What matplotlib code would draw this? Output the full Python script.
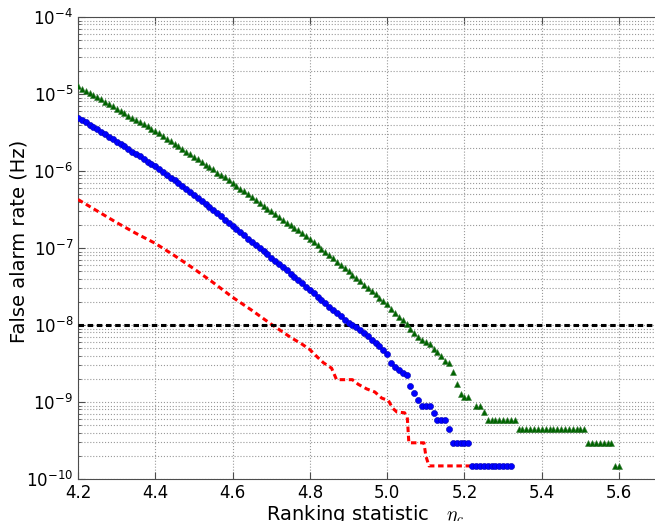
import numpy as np
import matplotlib
matplotlib.use("Agg")
import matplotlib.pyplot as plt
from matplotlib.ticker import LogLocator, MultipleLocator, NullFormatter

# log10 of false alarm rate (Hz), one value per 0.01 in ranking statistic
blue_x = np.round(np.arange(4.20, 5.325, 0.01), 2)
blue_log_far = [
    -5.31, -5.34, -5.37, -5.40, -5.43, -5.46, -5.49, -5.52, -5.56, -5.59,
    -5.62, -5.65, -5.68, -5.71, -5.75, -5.78, -5.81, -5.84, -5.88, -5.91,
    -5.94, -5.98, -6.01, -6.05, -6.09, -6.12, -6.16, -6.20, -6.24, -6.27,
    -6.31, -6.35, -6.39, -6.43, -6.47, -6.51, -6.55, -6.59, -6.63, -6.67,
    -6.71, -6.75, -6.79, -6.83, -6.88, -6.92, -6.96, -7.00, -7.04, -7.08,
    -7.13, -7.17, -7.21, -7.25, -7.29, -7.34, -7.38, -7.42, -7.46, -7.50,
    -7.55, -7.59, -7.63, -7.68, -7.72, -7.76, -7.80, -7.84, -7.88, -7.93,
    -7.97, -8.00, -8.03, -8.06, -8.10, -8.14, -8.19, -8.23, -8.27, -8.33,
    -8.38, -8.49, -8.55, -8.58, -8.62, -8.65, -8.79, -8.88, -8.98, -9.05,
    -9.05, -9.05, -9.14, -9.23, -9.23, -9.23, -9.35, -9.53, -9.53, -9.53,
    -9.53, -9.53, -9.83, -9.83, -9.83, -9.83, -9.83, -9.83, -9.83, -9.83,
    -9.83, -9.83, -9.83,
]

green_x = np.concatenate([np.round(np.arange(4.20, 5.215, 0.01), 2),
                          np.round(np.arange(5.23, 5.605, 0.01), 2)])
green_log_far = [
    -4.90, -4.93, -4.96, -4.99, -5.01, -5.04, -5.07, -5.10, -5.13, -5.16,
    -5.19, -5.22, -5.25, -5.28, -5.31, -5.34, -5.36, -5.39, -5.42, -5.45,
    -5.48, -5.51, -5.55, -5.58, -5.61, -5.65, -5.68, -5.71, -5.75, -5.78,
    -5.82, -5.85, -5.88, -5.92, -5.95, -5.98, -6.02, -6.05, -6.08, -6.12,
    -6.15, -6.19, -6.23, -6.26, -6.30, -6.34, -6.38, -6.41, -6.45, -6.49,
    -6.52, -6.56, -6.60, -6.63, -6.67, -6.70, -6.74, -6.77, -6.81, -6.84,
    -6.88, -6.92, -6.96, -7.01, -7.05, -7.09, -7.13, -7.18, -7.22, -7.26,
    -7.30, -7.35, -7.39, -7.43, -7.48, -7.52, -7.56, -7.60, -7.65, -7.69,
    -7.73, -7.79, -7.84, -7.89, -7.94, -7.99, -8.05, -8.10, -8.16, -8.19,
    -8.22, -8.25, -8.31, -8.35, -8.40, -8.47, -8.49, -8.61, -8.76, -8.89,
    -8.93, -8.93,
    # 5.23 onwards
    -9.05, -9.05, -9.13,
    -9.23, -9.23, -9.23, -9.23, -9.23, -9.23, -9.23, -9.23,
    -9.35, -9.35, -9.35, -9.35, -9.35, -9.35, -9.35, -9.35, -9.35,
    -9.35, -9.35, -9.35, -9.35, -9.35, -9.35, -9.35, -9.35, -9.35,
    -9.53, -9.53, -9.53, -9.53, -9.53, -9.53, -9.53,
    -9.83, -9.83,
]

red_x = [4.20, 4.25, 4.30, 4.35, 4.40, 4.45, 4.50, 4.55, 4.60, 4.65,
         4.70, 4.75, 4.78, 4.80, 4.82, 4.835, 4.856, 4.869, 4.91, 4.925,
         4.947, 4.968, 4.986, 5.003, 5.014, 5.025, 5.045, 5.052, 5.056,
         5.095, 5.10, 5.108, 5.215]
red_log_far = [-6.37, -6.52, -6.67, -6.81, -6.94, -7.10, -7.27, -7.45, -7.64, -7.81,
               -7.99, -8.16, -8.25, -8.32, -8.42, -8.49, -8.56, -8.71, -8.71, -8.77,
               -8.83, -8.87, -8.95, -8.98, -9.08, -9.13, -9.14, -9.20, -9.53,
               -9.53, -9.70, -9.83, -9.83]

far_threshold = 1e-8

plt.rcParams["mathtext.fontset"] = "cm"
plt.rcParams["font.family"] = "DejaVu Sans"

fig = plt.figure(figsize=(6.55, 5.21), dpi=100)
ax = fig.add_axes([78 / 655, 42 / 521, 600 / 655, 462 / 521])

ax.plot(red_x, 10 ** np.array(red_log_far), color="r", linestyle=(0, (1.8, 1.2)),
        linewidth=2.2, zorder=3)
ax.plot(blue_x, 10 ** np.array(blue_log_far), "o", color="b", markersize=4.4,
        markeredgecolor="#0000b0", markeredgewidth=0.4, zorder=4)
ax.plot(green_x, 10 ** np.array(green_log_far), "^", color="#006400", markersize=4.6,
        markeredgecolor="#3a7a3a", markeredgewidth=0.4, zorder=4)
ax.axhline(far_threshold, color="k", linestyle=(0, (1.8, 1.2)), linewidth=2.2, zorder=3)

ax.set_yscale("log")
ax.set_ylim(1e-10, 1e-4)
ax.set_xlim(4.2, 4.2 + 600 / 386.5)
ax.xaxis.set_major_locator(MultipleLocator(0.2))
ax.yaxis.set_major_locator(LogLocator(base=10, numticks=10))
ax.yaxis.set_minor_locator(LogLocator(base=10, subs=np.arange(2, 10), numticks=20))
ax.yaxis.set_minor_formatter(NullFormatter())

ax.grid(True, which="major", linestyle=":", color="0.6", linewidth=0.8)
ax.grid(True, which="minor", axis="y", linestyle=":", color="0.6", linewidth=0.8)
ax.tick_params(which="both", direction="in", top=True, right=True, labelsize=12,
               color="0.3")
ax.tick_params(which="major", length=5)
ax.tick_params(which="minor", length=2.5)
for s in ax.spines.values():
    s.set_color("0.3")

ax.set_ylabel("False alarm rate (Hz)", fontsize=14)
ax.set_xlabel("Ranking statistic   $\\eta_c$", fontsize=14)
ax.yaxis.set_label_coords(-0.082, 0.515)
ax.xaxis.set_label_coords(0.478, -0.053)

fig.savefig("out.png", dpi=100)
